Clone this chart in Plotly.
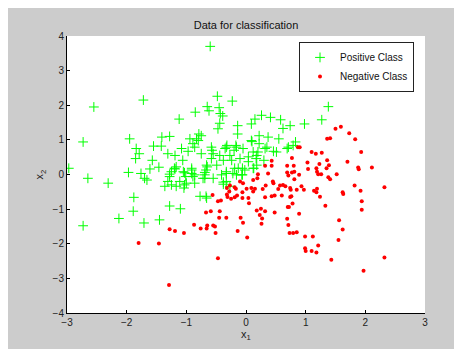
import plotly.graph_objects as go

# Positive class (green +)
pos_x = [-0.60, -2.55, -1.72, -2.97, -2.73, -2.65, -2.31, -2.73, -2.13, -1.88, -1.89, -1.71, -1.45,
         -1.28, -1.10, -0.48, -0.23, -0.85, -0.65, -0.62, -0.45, -0.43, -0.39, -0.44, -0.47, -1.12,
         -1.95, -1.84, -1.79, -1.85, -1.97, -1.76, -1.57, -1.46, -1.61, -1.55, -1.42, -1.41, -1.28,
         -1.31, -1.19, -1.08, -1.06, -1.20, -1.28, -1.03, -0.94, -0.89, -0.86, -0.83, -0.79, -0.75,
         -0.97, -0.75, -0.58, -0.55, -0.58, -0.49, -0.66, -0.69, -0.91, -0.86, -0.33, -0.27, -0.16,
         -0.14, -0.14, -0.33, -0.22, -0.06, 0.09, 0.15, 0.09, 0.22, 0.12, 0.04, 0.18, 0.18, -1.70,
         -1.66, -1.36, -1.31, -1.17, -1.11, -1.04, -1.00, -0.86, -0.89, -0.69, -0.77, -0.66, -1.25,
         -1.19, -1.05, -0.91, 0.26, 0.41, 0.58, 0.62, 0.74, -0.80, -0.57, -0.44, -0.35, -0.32, -0.17,
         -0.20, -0.05, 0.10, 0.22, 0.37, 0.55, 0.35, 0.20, 0.51, 0.71, 0.83, 0.79, 0.30, 0.17, 0.04,
         -0.10, -0.24, -0.38, -0.65, -0.67, -0.69, -0.91, -1.01, -1.17, -1.28, -1.25, -1.03, -0.72,
         -0.55, -0.33, -0.19, -0.16, -0.06, -0.02, 0.12, -0.33, -0.38, -0.67, 0.98, 1.38, 1.27, 0.46,
         0.32, 0.13, -0.13, -0.27, -0.38, -0.41, 0.69, -0.07]
pos_y = [3.70, 1.95, 2.15, 0.18, 0.94, -0.11, -0.25, -1.48, -1.27, -0.66, -1.06, -1.40, -1.31,
         -0.91, -0.99, 2.26, 2.12, 1.80, 1.96, 1.84, 1.93, 1.76, 1.69, 1.48, 1.32, 1.60,
         1.03, 0.75, 0.60, 0.46, 0.06, 0.03, 0.41, 0.21, 0.16, 0.82, 0.82, 1.08, 1.10,
         0.60, 0.55, 0.75, 0.41, 0.18, 0.01, 0.05, 1.03, 0.89, 0.79, 1.03, 1.17, 1.12,
         0.67, 0.60, 0.79, 0.60, 0.46, 0.27, 0.27, 0.06, 0.13, -0.01, 0.79, 0.55, 0.79,
         1.17, 1.41, 0.08, 0.03, 0.18, 1.46, 1.60, 0.98, 1.12, 0.65, 0.51, 0.55, 0.27, -0.11,
         -0.16, -0.34, -0.20, -0.34, -0.20, -0.39, -0.25, -0.25, -0.06, -0.11, -0.63, -0.68, 0.08,
         0.16, 0.08, 0.18, 1.71, 1.65, 1.58, 1.33, 1.41, 0.98, 0.70, 0.55, 0.75, 0.84, 0.84,
         0.70, 0.75, 0.95, 0.89, 1.08, 1.03, 0.79, 0.65, 0.65, 0.79, 0.94, 0.84, 0.41, 0.46, 0.37,
         0.46, 0.41, 0.41, 0.22, 0.13, -0.01, 0.03, -0.06, 0.22, -0.06, -0.30, -0.30, -0.11,
         -0.11, 0.03, 0.18, -0.01, -0.01, 0.13, 0.18, -0.20, -0.22, -0.63, 1.46, 1.96, 1.58, 0.67,
         0.75, 0.18, 0.18, -0.34, -0.28, -0.01, 0.75, -0.01]

# Negative class (red dots)
neg_x = [1.59, 1.50, 1.73, 1.83, 1.41, 1.36, 1.93, 0.90, 1.10, 1.17, 1.27, 0.77, 1.03, 1.36, 1.70,
         0.43, 0.43, 0.32, 0.69, 0.80, 1.23, 1.39, 1.04, 1.18, 1.35, 1.88, 1.89, 2.11, 0.69, 0.77,
         0.81, 1.19, 1.21, 1.26, 1.52, 1.38, 1.41, 0.71, 0.81, 0.89, 0.20, 0.19, 0.12, 0.37, 0.45,
         0.46, -0.10, -0.05, -0.27, -0.32, -0.19, -0.28, -0.17, 0.01, 0.09, 0.15, -0.06, 0.12, 0.28,
         0.33, 0.54, 0.57, 0.62, 0.66, 0.74, 0.75, 0.85, 0.93, 0.97, 1.14, 1.19, 1.18, 1.24, 1.62,
         1.63, 1.82, 1.92, 2.32, 0.43, 0.48, 0.60, 0.74, 0.76, 0.32, 0.04, 0.05, -0.06, -0.15, -0.25,
         -0.32, -0.31, -0.19, -0.56, -0.42, -0.47, 0.78, 0.70, 0.72, 1.33, 1.94, 1.94, 0.25, 0.32,
         0.18, 0.23, 0.27, 0.26, 0.48, 0.89, 0.69, 0.71, 0.73, 0.79, 0.85, 0.99, 1.12, 1.21, 0.99,
         1.00, 1.10, 1.18, 1.56, 1.62, 1.55, 1.43, 1.97, 2.32, 0.02, -0.14, -0.05, -0.09, -0.33,
         -0.45, -0.44, -0.59, -0.67, -0.55, -0.52, -0.51, -0.65, -0.66, -0.76, -0.87, -1.04, -1.19,
         -1.28, -1.46, -0.47, -1.29, -1.80, 0.87]
neg_y = [1.38, 1.32, 1.19, 1.02, 1.05, 1.03, 0.65, 0.79, 0.65, 0.60, 0.63, 0.48, 0.35, 0.41, 0.37,
         0.40, 0.25, 0.25, 0.25, 0.25, 0.30, 0.27, 0.16, 0.18, 0.18, 0.20, 0.15, 0.20, 0.06, 0.06,
         0.08, 0.08, 0.01, 0.01, 0.01, -0.08, -0.14, -0.03, -0.14, -0.01, 0.01, -0.11, -0.16, 0.03, -0.20,
         -0.25, -0.20, -0.25, -0.32, -0.39, -0.37, -0.49, -0.41, -0.41, -0.39, -0.41, -0.51, -0.49, -0.42,
         -0.32, -0.42, -0.32, -0.30, -0.34, -0.39, -0.44, -0.44, -0.34, -0.44, -0.47, -0.41, -0.51, -0.64, -0.51,
         -0.56, -0.32, -0.47, -0.37, -0.63, -0.61, -0.61, -0.65, -0.63, -0.66, -0.68, -0.83, -0.68, -0.61, -0.70,
         -0.58, -0.65, -0.66, -0.59, -0.75, -0.77, -0.84, -0.94, -0.94, -0.90, -0.77, -1.02, -0.99, -1.06,
         -1.04, -1.17, -1.27, -1.42, -1.10, -1.13, -1.28, -1.46, -1.69, -1.69, -1.67, -1.79, -1.79, -2.05, -2.13,
         -2.21, -2.21, -2.25, -1.32, -1.59, -1.89, -2.46, -2.78, -2.40, -1.82, -1.63, -1.39, -1.25, -1.25,
         -1.25, -1.06, -1.06, -1.10, -1.47, -1.50, -1.69, -1.47, -1.56, -1.56, -1.45, -1.69, -1.63,
         -1.58, -1.99, -2.42, -3.19, -1.98, 0.79]

x_ticks = [-3, -2, -1, 0, 1, 2, 3]
y_ticks = [-4, -3, -2, -1, 0, 1, 2, 3, 4]

# page body has an 8px margin, so the figure starts at (8, 8) in the window
W, H = 454, 341
L, R, T, B = 59, 37, 28, 32
pw = W - L - R
ph = H - T - B

fig = go.Figure()
fig.add_trace(go.Scatter(
    x=pos_x, y=pos_y, mode="markers", name="Positive Class",
    marker=dict(symbol="cross-thin", size=7, color="#00ff00",
                line=dict(color="#00ff00", width=1)),
))
fig.add_trace(go.Scatter(
    x=neg_x, y=neg_y, mode="markers", name="Negative Class",
    marker=dict(symbol="circle", size=4, color="#ff0000", line=dict(width=0)),
))

axis_common = dict(
    showgrid=False, zeroline=False, showline=True, linecolor="black", linewidth=1,
    mirror=False, ticks="inside", ticklen=3, tickcolor="black", tickwidth=1,
    tickfont=dict(family="Liberation Sans, Arial, sans-serif", size=10, color="#222222"),
)

fig.update_layout(
    width=W, height=H,
    margin=dict(l=L, r=R, t=T, b=B, pad=0),
    paper_bgcolor="#cccccc",
    plot_bgcolor="white",
    font=dict(family="Liberation Sans, Arial, sans-serif", size=10, color="#222222"),
    title=dict(text="Data for classification", x=0.5, xref="paper",
               y=1 - 17 / H, yref="container", yanchor="middle",
               font=dict(size=11, color="#111111")),
    xaxis=dict(range=[-3, 3], tickmode="array", tickvals=x_ticks,
               title=dict(text="x<sub>1</sub>", standoff=1,
                          font=dict(size=11, color="#222222")),
               **axis_common),
    yaxis=dict(range=[-4, 4], tickmode="array", tickvals=y_ticks,
               title=dict(text="x<sub>2</sub>", standoff=6,
                          font=dict(size=11, color="#222222")),
               **axis_common),
    legend=dict(x=(299 - 8 - L) / pw, y=1 - (42 - 8 - T) / ph, xanchor="left", yanchor="top",
                bgcolor="white", bordercolor="#222222", borderwidth=1,
                font=dict(size=10, color="#111111"), itemwidth=30,
                tracegroupgap=0),
    showlegend=True,
)

fig.write_html("out.html")
